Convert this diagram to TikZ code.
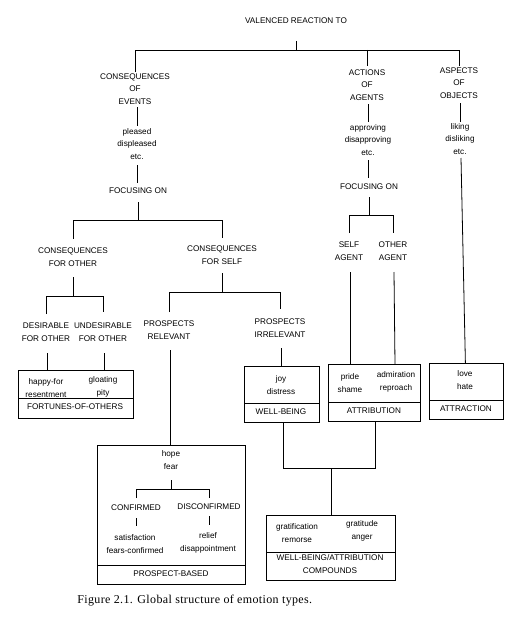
\documentclass[tikz,border=0pt]{standalone}
\usepackage{fontspec}
\setmainfont{Liberation Sans}
\newfontfamily\capfont[LetterSpace=3]{Liberation Serif}
\begin{document}
\begin{tikzpicture}[x=1pt,y=-1pt,line width=0.8pt,
  lbl/.style={inner sep=0pt,align=center,font=\fontsize{8.2}{12.5}\selectfont},
  boxst/.style={draw,inner sep=0pt,anchor=north west}]
\useasboundingbox (0,0) rectangle (522,634);
% ---------- text nodes ----------
\node[lbl] (v)  at (296,21)  {VALENCED REACTION TO};
\node[lbl] (ce) at (135,89)  {CONSEQUENCES\\OF\\EVENTS};
\node[lbl] (aa) at (367,85)  {ACTIONS\\OF\\AGENTS};
\node[lbl] (ao) at (459,83)  {ASPECTS\\OF\\OBJECTS};
\node[lbl] (pd) at (137,144) {pleased\\displeased\\etc.};
\node[lbl] (ad) at (368,140) {approving\\disapproving\\etc.};
\node[lbl] (ld) at (460,139) {liking\\disliking\\etc.};
\node[lbl] (f1) at (138,191) {FOCUSING ON};
\node[lbl] (f2) at (369,187) {FOCUSING ON};
\node[lbl] (co) at (73,257)  {CONSEQUENCES\\FOR OTHER};
\node[lbl] (cs) at (222,255) {CONSEQUENCES\\FOR SELF};
\node[lbl] (sa) at (349,251) {SELF\\AGENT};
\node[lbl] (oa) at (393,251) {OTHER\\AGENT};
\node[lbl] (de) at (46,332)  {DESIRABLE\\FOR OTHER};
\node[lbl] (ud) at (103,332) {UNDESIRABLE\\FOR OTHER};
\node[lbl] (pr) at (169,330) {PROSPECTS\\RELEVANT};
\node[lbl] (pi) at (280,328) {PROSPECTS\\IRRELEVANT};
% ---------- boxes ----------
\node[boxst,minimum width=115pt,minimum height=48pt] (fob) at (18,370) {};
\node[boxst,minimum width=75pt,minimum height=56pt]  (wbb) at (244,366) {};
\node[boxst,minimum width=92pt,minimum height=57pt]  (atb) at (328,364) {};
\node[boxst,minimum width=74pt,minimum height=56pt]  (arb) at (429,363) {};
\node[boxst,minimum width=148pt,minimum height=139pt] (pbb) at (97,445) {};
\node[boxst,minimum width=129pt,minimum height=65pt] (wab) at (266,515) {};
\draw (fob.west |- 0,398) -- (fob.east |- 0,398);
\draw (wbb.west |- 0,403) -- (wbb.east |- 0,403);
\draw (atb.west |- 0,402) -- (atb.east |- 0,402);
\draw (arb.west |- 0,400) -- (arb.east |- 0,400);
\draw (pbb.west |- 0,565) -- (pbb.east |- 0,565);
\draw (wab.west |- 0,552) -- (wab.east |- 0,552);
% box contents
\node[lbl] (hf) at (46,388)  {happy-for\\resentment};
\node[lbl] (gp) at (103,387) {gloating\\pity};
\node[lbl] (fol) at (75,407) {FORTUNES-OF-OTHERS};
\node[lbl] (jd) at (281,385) {joy\\distress};
\node[lbl] (wbl) at (281,412) {WELL-BEING};
\node[lbl] (ps) at (350,383) {pride\\shame};
\node[lbl] (ar) at (396,382) {admiration\\reproach};
\node[lbl] (atl) at (374,411) {ATTRIBUTION};
\node[lbl] (lh) at (465,380) {love\\hate};
\node[lbl] (arl) at (466,409) {ATTRACTION};
\node[lbl] (hp) at (171,460) {hope\\fear};
\node[lbl] (cf) at (136,508) {CONFIRMED};
\node[lbl] (dc) at (209,507) {DISCONFIRMED};
\node[lbl] (sf) at (135,544) {satisfaction\\fears-confirmed};
\node[lbl] (rd) at (208,543) {relief\\disappointment};
\node[lbl] (pbl) at (171,574) {PROSPECT-BASED};
\node[lbl] (gr) at (297,533) {gratification\\remorse};
\node[lbl] (ga) at (362,531) {gratitude\\anger};
\node[lbl] (wal) at (330,564) {WELL-BEING/ATTRIBUTION\\COMPOUNDS};
% caption
\node[inner sep=0pt,anchor=west,font=\capfont\fontsize{12}{14}\selectfont] (cap) at (77,601)
  {Figure 2.1. Global structure of emotion types.};
% ---------- connectors ----------
\draw (v |- 0,41) -- (v |- 0,50);
\draw (ce |- 0,72) -- (ce |- 0,50) -- (ao |- 0,50) -- (ao |- 0,66);
\draw (aa |- 0,50) -- (aa |- 0,66);
\draw (pd |- 0,107) -- (pd |- 0,126);
\draw (pd |- 0,165) -- (pd |- 0,183);
\draw (ad |- 0,104) -- (ad |- 0,122);
\draw (ad |- 0,160) -- (ad |- 0,178);
\draw (ld |- 0,103) -- (ld |- 0,122);
\draw ([xshift=1pt]ld |- 0,158) -- ([xshift=-1pt]arb.north);
% events branch
\draw (f1 |- 0,202) -- (f1 |- 0,220);
\draw (co |- 0,239) -- (co |- 0,220) -- (cs |- 0,220) -- (cs |- 0,238);
\draw (co |- 0,277) -- (co |- 0,296);
\draw (de |- 0,314) -- (de |- 0,296) -- (ud |- 0,296) -- (ud |- 0,312);
\draw (cs |- 0,273) -- (cs |- 0,292);
\draw (pr |- 0,312) -- (pr |- 0,292) -- (pi |- 0,292) -- (pi |- 0,309);
\draw ([xshift=1pt]de |- 0,353) -- ([xshift=1pt]de |- fob.north);
\draw ([xshift=1pt]ud |- 0,353) -- ([xshift=1pt]ud |- fob.north);
\draw ([xshift=1pt]pr |- 0,350) -- ([xshift=1pt]pr |- pbb.north);
\draw ([xshift=1pt]pi |- 0,348) -- ([xshift=1pt]pi |- wbb.north);
% agents branch
\draw (f2 |- 0,197) -- (f2 |- 0,215);
\draw (sa |- 0,233) -- (sa |- 0,215) -- (oa |- 0,215) -- (oa |- 0,233);
\draw ([xshift=1pt]sa |- 0,272) -- ([xshift=1pt]sa |- atb.north);
\draw ([xshift=1pt]oa |- 0,272) -- ([xshift=2pt]oa |- atb.north);
% compounds
\draw (283,0 |- wbb.south) -- (283,468) -- (375,468) -- (375,0 |- atb.south);
\draw (wab.north |- 0,468) -- (wab.north);
% prospect-based internal
\draw (hp |- 0,480) -- (hp |- 0,489);
\draw (cf |- 0,498) -- (cf |- 0,489) -- (dc |- 0,489) -- (dc |- 0,498);
\draw (cf |- 0,518) -- (cf |- 0,526);
\draw (dc |- 0,516) -- (dc |- 0,525);
\end{tikzpicture}
\end{document}
